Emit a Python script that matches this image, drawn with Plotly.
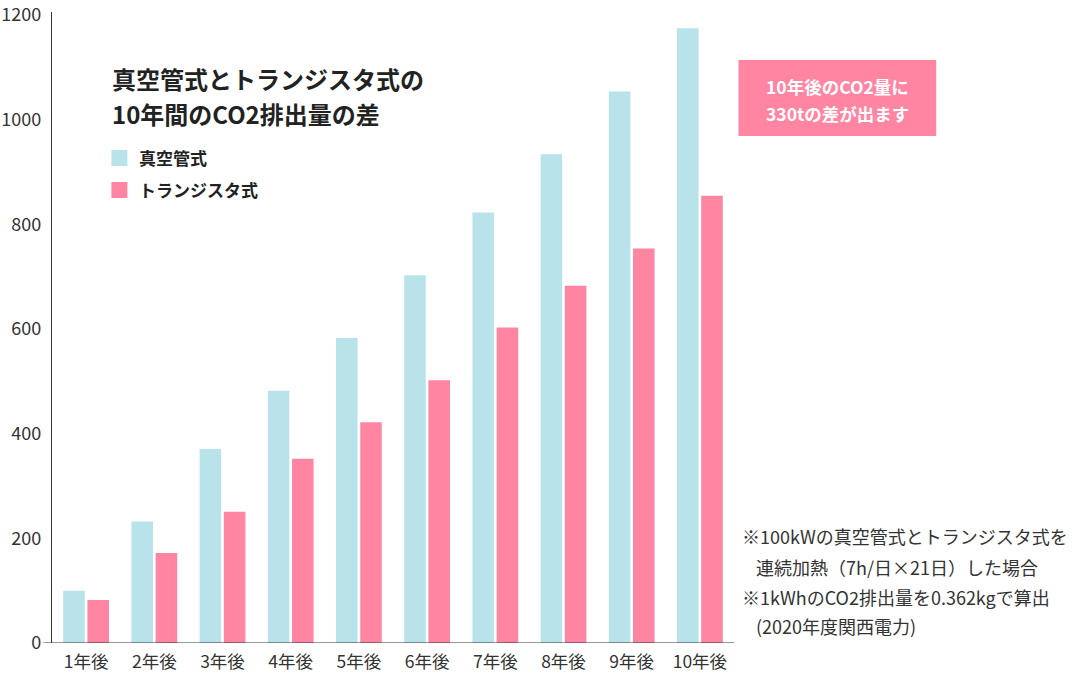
import plotly.graph_objects as go

categories = ["1年後", "2年後", "3年後", "4年後", "5年後", "6年後", "7年後", "8年後", "9年後", "10年後"]
vacuum_values = [100, 232, 371, 482, 583, 703, 823, 934, 1054, 1175]
transistor_values = [82, 172, 251, 352, 422, 502, 603, 683, 754, 855]
series_names = ["真空管式", "トランジスタ式"]
y_ticks = [0, 200, 400, 600, 800, 1000, 1200]

FONT = "Noto Sans CJK JP, Noto Sans, sans-serif"
BLUE = "#B8E3EA"
PINK = "#FF85A3"
TXT = "#333333"

# plot box in page pixels (body margin removed below)
PL, PR, PT, PB = 51.5, 734.5, 12.0, 643.0
PW, PH = PR - PL, PB - PT


def px(X):
    return (X - PL) / PW


def py(Y):
    return (PB - Y) / PH


fig = go.Figure()
fig.add_trace(go.Bar(x=categories, y=vacuum_values, name=series_names[0],
                     marker=dict(color=BLUE, line=dict(width=0))))
fig.add_trace(go.Bar(x=categories, y=transistor_values, name=series_names[1],
                     marker=dict(color=PINK, line=dict(width=0))))

fig.update_layout(
    width=1080, height=674,
    margin=dict(l=PL, r=1080 - PR, t=PT, b=674 - PB, pad=0),
    paper_bgcolor="white", plot_bgcolor="white",
    font=dict(family=FONT, color=TXT, size=17),
    barmode="group", bargap=0.29, bargroupgap=0.11,
    showlegend=False,
    xaxis=dict(showline=False, showgrid=False, ticks="", automargin=False,
               ticklabelstandoff=6,
               tickfont=dict(size=17.5, color=TXT), range=[-0.5, 9.5]),
    yaxis=dict(range=[0, 1206], tickvals=y_ticks, showgrid=False, zeroline=False,
               showline=True, linecolor="#333333", linewidth=1.2, ticks="", automargin=False,
               ticklabeloverflow="allow", ticklabelstandoff=6,
               tickfont=dict(size=18, color=TXT)),
)

# x baseline (extends slightly left of the y axis)
fig.add_shape(type="line", xref="paper", yref="y", x0=px(43), x1=1.0, y0=0, y1=0,
              line=dict(color="#333333", width=1.2))

# Title
fig.add_annotation(xref="paper", yref="paper", x=px(110), y=py(78),
                   xanchor="left", yanchor="middle", showarrow=False,
                   text="<b>真空管式とトランジスタ式の</b>", font=dict(size=24, color="#222222", family=FONT))
fig.add_annotation(xref="paper", yref="paper", x=px(110), y=py(113),
                   xanchor="left", yanchor="middle", showarrow=False,
                   text="<b>10年間のCO2排出量の差</b>", font=dict(size=24, color="#222222", family=FONT))

# Legend (manual)
legend_colors = [BLUE, PINK]
for i, (name, col) in enumerate(zip(series_names, legend_colors)):
    cy = 158 + 32 * i
    fig.add_shape(type="rect", xref="paper", yref="paper",
                  x0=px(111), x1=px(127), y0=py(cy + 8), y1=py(cy - 8),
                  fillcolor=col, line=dict(width=0))
    fig.add_annotation(xref="paper", yref="paper", x=px(137), y=py(cy),
                       xanchor="left", yanchor="middle", showarrow=False,
                       text="<b>" + name + "</b>", font=dict(size=17, color="#222222", family=FONT))

# Callout box
fig.add_shape(type="rect", xref="paper", yref="paper",
              x0=px(739), x1=px(937), y0=py(136), y1=py(60),
              fillcolor=PINK, line=dict(width=0))
fig.add_annotation(xref="paper", yref="paper", x=px(838), y=py(86.5),
                   xanchor="center", yanchor="middle", showarrow=False,
                   text="<b>10年後のCO2量に</b>", font=dict(size=17.5, color="white", family=FONT))
fig.add_annotation(xref="paper", yref="paper", x=px(838), y=py(113),
                   xanchor="center", yanchor="middle", showarrow=False,
                   text="<b>330tの差が出ます</b>", font=dict(size=17.5, color="white", family=FONT))

# Notes
notes = [("※100kWの真空管式とトランジスタ式を", 536, 741),
         ("連続加熱（7h/日×21日）した場合", 566.5, 755),
         ("※1kWhのCO2排出量を0.362kgで算出", 597, 741),
         ("(2020年度関西電力)", 626, 755)]
for t, yy, xx in notes:
    fig.add_annotation(xref="paper", yref="paper", x=px(xx), y=py(yy),
                       xanchor="left", yanchor="middle", showarrow=False,
                       text=t, font=dict(size=18, color=TXT, family=FONT))

fig.write_html("out.html", config={"displayModeBar": False},
               post_script="document.body.style.margin='0';")
